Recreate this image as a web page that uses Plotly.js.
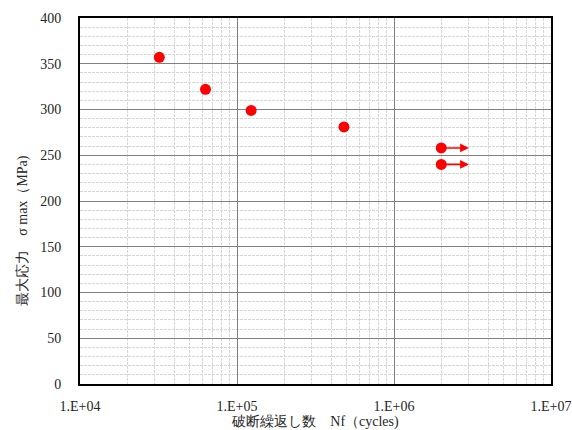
<!DOCTYPE html>
<html><head><meta charset="utf-8">
<script src="https://cdn.plot.ly/plotly-3.0.1.min.js"></script>
<style>html,body{margin:0;padding:0;background:#fff}#chart{width:572px;height:430px}</style>
</head><body><div id="chart"></div>
<script>
// Data
const cycles = [32000, 63000, 123000, 480000, 2000000, 2000000];
const stress = [357, 322, 299, 281, 258, 240];
const runout = [false, false, false, false, true, true];
const runoutEnd = 3000000;
const xTickVals = [1e4, 1e5, 1e6, 1e7];
const xTickText = ['1.E+04', '1.E+05', '1.E+06', '1.E+07'];
const xTitle = '破断繰返し数　Nf（cycles)';
const yTitle = '最大応力　σ max（MPa)';

const FONT = 'Times New Roman, Liberation Serif, serif';
const TXT = '#262626';

const arrows = [];
cycles.forEach((c, i) => {
  if (runout[i]) {
    arrows.push({
      x: Math.log10(runoutEnd), y: stress[i], xref: 'x', yref: 'y',
      ax: Math.log10(c), ay: stress[i], axref: 'x', ayref: 'y',
      showarrow: true, arrowhead: 2, arrowsize: 1.1, arrowwidth: 1.6,
      arrowcolor: '#ff0000', text: '', standoff: 0, startstandoff: 0
    });
  }
});

const layout = {
  width: 572, height: 430,
  margin: {l: 80, r: 21, t: 18, b: 46},
  paper_bgcolor: '#fff', plot_bgcolor: '#fff',
  font: {family: FONT, size: 14, color: TXT},
  showlegend: false,
  xaxis: {
    type: 'log', range: [4, 7],
    tickvals: xTickVals, ticktext: xTickText,
    ticks: '', ticklabelstandoff: 8,
    tickfont: {family: FONT, size: 14, color: TXT},
    showgrid: true, gridcolor: '#808080', gridwidth: 1,
    minor: {dtick: 'D1', showgrid: true, gridcolor: '#d6d6d6', gridwidth: 1, griddash: '3px,1px', ticks: ''},
    showline: true, mirror: true, linecolor: '#000', linewidth: 2,
    zeroline: false,
    title: {text: xTitle, font: {family: FONT, size: 14, color: TXT}, standoff: 9}
  },
  yaxis: {
    range: [0, 400], dtick: 50,
    ticks: '', ticklabelstandoff: 14,
    tickfont: {family: FONT, size: 14, color: TXT},
    showgrid: true, gridcolor: '#808080', gridwidth: 1,
    minor: {dtick: 10, showgrid: true, gridcolor: '#d6d6d6', gridwidth: 1, griddash: '3px,1px', ticks: ''},
    showline: true, mirror: true, linecolor: '#000', linewidth: 2,
    zeroline: false
  },
  annotations: arrows.concat([{
    text: yTitle, textangle: -90, xref: 'paper', yref: 'paper',
    x: -0.12, y: 0.42, xanchor: 'center', yanchor: 'middle', showarrow: false,
    font: {family: FONT, size: 14, color: TXT}
  }])
};

Plotly.newPlot('chart', [{
  type: 'scatter', mode: 'markers', x: cycles, y: stress,
  marker: {color: '#ff0000', size: 11, line: {width: 0}},
  cliponaxis: false
}], layout, {staticPlot: true, displayModeBar: false});
</script></body></html>
